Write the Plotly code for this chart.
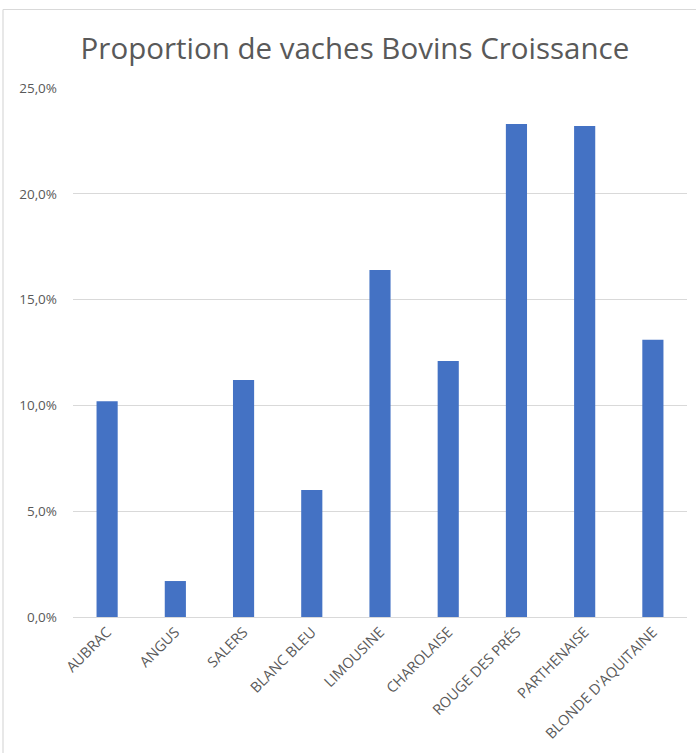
import plotly.graph_objects as go

categories = ["AUBRAC", "ANGUS", "SALERS", "BLANC BLEU", "LIMOUSINE",
              "CHAROLAISE", "ROUGE DES PRÉS", "PARTHENAISE", "BLONDE D'AQUITAINE"]
values = [0.102, 0.017, 0.112, 0.060, 0.164, 0.121, 0.233, 0.232, 0.131]
y_ticks = [0.0, 0.05, 0.10, 0.15, 0.20, 0.25]
title_text = "Proportion de vaches Bovins Croissance"

W, H = 696, 753
L, R, T, B = 73, 9, 88, 136

fig = go.Figure(go.Bar(
    x=categories, y=values,
    marker=dict(color="#4472C4", line=dict(width=0)),
))

grey = "#595959"
fig.update_layout(
    width=W, height=H,
    margin=dict(l=L, r=R, t=T, b=B, pad=0),
    paper_bgcolor="white", plot_bgcolor="white",
    separators=", ",
    bargap=0.69,
    showlegend=False,
    title=dict(text=title_text, x=0.51, xanchor="center", y=1 - 49 / H,
               yanchor="middle", font=dict(family="Open Sans", size=29.5, color=grey)),
    font=dict(family="Open Sans", color=grey),
    xaxis=dict(tickangle=-45, tickfont=dict(size=14.5, color=grey),
               showline=True, linecolor="#D9D9D9", linewidth=1,
               ticks="", showgrid=False),
    yaxis=dict(range=[0, 0.25], tickvals=y_ticks, tickformat=".1%",
               tickfont=dict(size=13.5, color=grey),
               showgrid=True, gridcolor="#D9D9D9", gridwidth=1,
               zeroline=False, showline=False, ticklabelstandoff=15),
)

pw = W - L - R
ph = H - T - B
def px_x(p):
    return (p - L) / pw
def px_y(p):
    return (H - B - p) / ph

fig.add_shape(type="line", xref="paper", yref="paper",
              x0=px_x(3), x1=px_x(700), y0=px_y(9.5), y1=px_y(9.5),
              line=dict(color="#D9D9D9", width=1.2))
fig.add_shape(type="line", xref="paper", yref="paper",
              x0=px_x(3), x1=px_x(3), y0=px_y(9.5), y1=px_y(760),
              line=dict(color="#D9D9D9", width=1.2))

fig.write_html("out.html", config={"displayModeBar": False},
               post_script="document.body.style.margin='0';document.body.style.overflow='hidden';")
